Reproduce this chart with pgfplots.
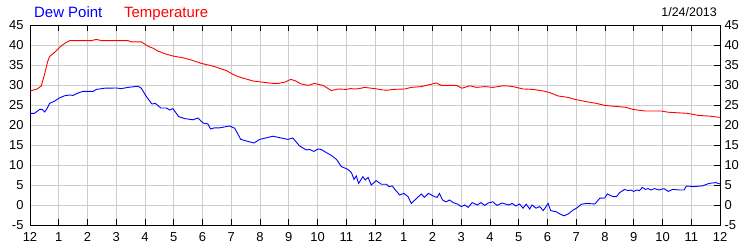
\documentclass[border=0pt]{standalone}
\usepackage{pgfplots}
\pgfplotsset{compat=1.18}
\usepackage{fontspec}
\setmainfont{Liberation Sans}
\definecolor{dpblue}{RGB}{0,0,255}
\definecolor{tred}{RGB}{255,0,0}
\definecolor{gridgray}{RGB}{204,204,204}

\pgfplotstableread{
x y
0 28.5
0.1 28.7
0.25 29.0
0.39 29.75
0.5 32.5
0.62 36.0
0.68 37.1
0.86 38.2
1.09 39.8
1.25 40.6
1.38 41.1
1.7 41.1
2.13 41.1
2.31 41.4
2.48 41.1
3.0 41.1
3.41 41.1
3.52 40.8
3.87 40.8
4.1 39.7
4.28 39.2
4.45 38.5
4.7 37.8
4.97 37.25
5.32 36.8
5.61 36.25
5.96 35.4
6.2 35.0
6.42 34.6
6.83 33.6
7.0 32.9
7.18 32.25
7.47 31.6
7.76 31.0
8.10 30.7
8.45 30.4
8.63 30.4
8.86 30.7
9.07 31.4
9.21 31.1
9.44 30.25
9.67 29.9
9.9 30.4
10.19 29.9
10.35 29.2
10.48 28.6
10.71 29.0
11.0 28.9
11.15 29.1
11.29 29.0
11.45 29.1
11.64 29.4
11.99 29.1
12.28 28.75
12.45 28.7
12.63 28.9
13.03 29.0
13.26 29.4
13.61 29.6
13.9 30.1
14.13 30.5
14.31 29.9
14.6 29.9
14.83 29.9
15.03 29.2
15.3 29.8
15.53 29.4
15.82 29.6
16.1 29.4
16.45 29.8
16.63 29.75
16.8 29.6
17.15 29.0
17.5 28.9
17.85 28.5
18.08 28.1
18.37 27.25
18.72 26.9
18.95 26.4
19.3 25.9
19.7 25.4
19.99 24.9
20.45 24.6
20.74 24.4
20.97 23.9
21.38 23.5
21.96 23.5
22.19 23.2
22.89 22.9
23.24 22.4
23.59 22.25
23.99 21.9
}\temptable

\pgfplotstableread{
x y
0 22.9
0.15 22.9
0.34 23.9
0.42 23.9
0.51 23.25
0.6 24.2
0.68 25.4
0.86 26.0
1.03 26.8
1.2 27.3
1.38 27.5
1.5 27.4
1.67 28.0
1.84 28.4
2.19 28.4
2.31 28.9
2.6 29.2
3.0 29.25
3.18 29.1
3.41 29.4
3.76 29.7
3.87 29.2
4.05 27.1
4.24 25.25
4.36 25.4
4.55 24.25
4.74 24.25
4.86 23.75
4.97 24.1
5.17 22.1
5.38 21.6
5.67 21.3
5.84 21.75
6.02 20.5
6.19 20.25
6.28 19.0
6.42 19.3
6.6 19.3
6.94 19.75
7.12 19.2
7.33 16.4
7.58 15.9
7.79 15.5
7.99 16.4
8.28 16.9
8.45 17.2
8.74 16.75
8.97 16.4
9.14 16.75
9.38 14.75
9.61 13.75
9.72 13.9
9.87 13.4
10.02 14.0
10.12 13.9
10.31 13.1
10.48 12.4
10.66 11.4
10.83 9.6
11.06 8.9
11.18 8.1
11.27 6.4
11.35 7.25
11.43 5.4
11.58 7.1
11.66 6.25
11.76 6.9
11.87 5.0
12.04 6.1
12.22 5.2
12.4 5.2
12.48 4.6
12.6 4.75
12.71 3.75
12.86 2.5
13.0 2.9
13.15 2.1
13.26 0.4
13.44 1.6
13.61 2.75
13.72 1.9
13.86 2.9
14.07 2.1
14.16 1.9
14.24 2.9
14.35 1.25
14.47 0.8
14.59 1.25
14.72 0.6
14.88 0.2
15.0 -0.4
15.12 0.0
15.24 -0.6
15.38 0.6
15.56 0.0
15.68 0.6
15.82 -0.1
15.94 0.5
16.1 0.8
16.24 -0.1
16.42 0.5
16.65 0.0
16.77 0.4
16.9 -0.25
17.03 0.25
17.15 -0.8
17.26 0.2
17.38 -1.0
17.46 0.0
17.6 -0.8
17.73 -0.4
17.85 -1.4
17.93 -0.6
18.02 0.4
18.11 -1.4
18.31 -1.7
18.42 -2.2
18.57 -2.7
18.72 -2.25
18.89 -1.25
19.01 -0.8
19.18 0.2
19.36 0.4
19.65 0.25
19.82 1.7
19.99 1.75
20.08 2.75
20.28 2.1
20.4 2.1
20.51 3.1
20.68 3.9
20.8 3.6
20.9 3.75
21.0 3.4
21.1 3.75
21.2 3.6
21.3 4.4
21.4 3.9
21.5 4.1
21.6 3.75
21.72 4.1
21.88 3.75
22.05 4.1
22.2 3.4
22.35 3.9
22.61 3.75
22.75 3.75
22.83 4.75
23.1 4.6
23.4 4.8
23.62 5.4
23.85 5.6
24.0 5.25
}\dewtable

\begin{document}
\begin{tikzpicture}
\useasboundingbox (0,0) rectangle (750bp,250bp);
\begin{axis}[
  at={(30bp,25bp)}, anchor=south west,
  scale only axis, width=690bp, height=200bp,
  xmin=0, xmax=24, ymin=-5, ymax=45,
  xtick={0,...,24},
  xticklabels={12,1,2,3,4,5,6,7,8,9,10,11,12,1,2,3,4,5,6,7,8,9,10,11,12},
  ytick={-5,0,5,10,15,20,25,30,35,40,45},
  yticklabels={-5,0,5,10,15,20,25,30,35,40,45},
  grid=major,
  major grid style={gridgray, line width=1bp},
  axis line style={black, line width=1bp},
  tick align=inside,
  xtick pos=both,
  xticklabel pos=lower,
  ytick pos=left,
  major tick length=6bp,
  y tick style={draw=none},
  x tick style={black, line width=1bp},
  tick label style={font=\fontsize{13}{15}\selectfont},
  xticklabel style={yshift=-4bp},
  yticklabel style={xshift=-3bp},
]
\addplot[tred, line width=0.9bp] table {\temptable};
\addplot[dpblue, line width=0.9bp] table {\dewtable};
\end{axis}
\begin{axis}[
  at={(30bp,25bp)}, anchor=south west,
  scale only axis, width=690bp, height=200bp,
  xmin=0, xmax=24, ymin=-5, ymax=45,
  axis x line=none,
  axis y line*=right,
  ytick={-5,0,5,10,15,20,25,30,35,40,45},
  yticklabels={-5,0,5,10,15,20,25,30,35,40,45},
  tick align=inside,
  major tick length=6bp,
  y tick style={black, line width=1bp},
  axis line style={black, line width=1bp},
  tick label style={font=\fontsize{13}{15}\selectfont},
  yticklabel style={xshift=1bp},
]
\end{axis}
\node[anchor=base west, text=dpblue, font=\fontsize{15}{18}\selectfont, inner sep=0pt] at (34bp,232.7bp) {Dew Point};
\node[anchor=base west, text=tred, font=\fontsize{15}{18}\selectfont, inner sep=0pt] at (124bp,232.7bp) {Temperature};
\node[anchor=base east, text=black, font=\fontsize{12.5}{15}\selectfont, inner sep=0pt] at (717bp,233.3bp) {1/24/2013};
\end{tikzpicture}
\end{document}
